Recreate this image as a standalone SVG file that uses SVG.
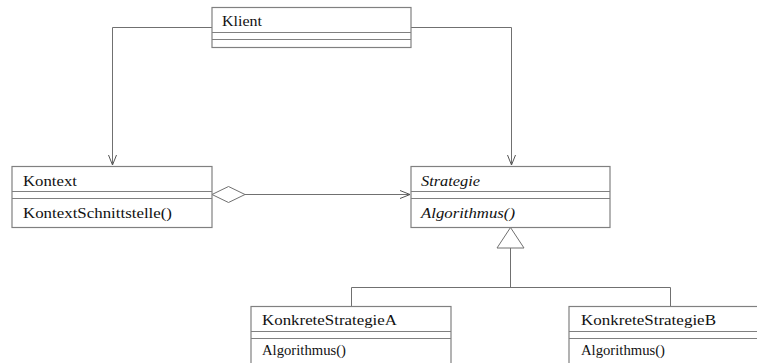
<svg xmlns="http://www.w3.org/2000/svg" width="757" height="363" viewBox="0 0 757 363">
<style>
.box{fill:#fff;stroke:#808080;stroke-width:1.2}
.div{stroke:#808080;stroke-width:1.2;fill:none}
.t{font-family:'Liberation Serif','DejaVu Serif',Times,serif;font-size:15px;fill:#111}
.i{font-style:italic}
.c{stroke:#707070;stroke-width:1;fill:none}
</style>
<defs>
<marker id="open" markerWidth="12" markerHeight="12" refX="10" refY="5" orient="auto" markerUnits="userSpaceOnUse">
<path d="M0,1 L10,5 L0,9" fill="none" stroke="#555" stroke-width="1"/>
</marker>
</defs>
<rect width="757" height="363" fill="#fff"/>
<g id="connectors">
<path class="c" d="M212,27.5 H112.5 V165" marker-end="url(#open)"/>
<path class="c" d="M411,27.5 H511.5 V165" marker-end="url(#open)"/>
<path class="c" d="M245,194.5 H410" marker-end="url(#open)"/>
<polygon points="212,194.5 228.5,186.5 245,194.5 228.5,202.5" fill="#fff" stroke="#707070" stroke-width="1"/>
<polygon points="510.5,227.5 497,248 524,248" fill="#fff" stroke="#707070" stroke-width="1"/>
<path class="c" d="M510.5,248 V287.5 M351.5,306 V287.5 H670.5 V306"/>
</g>
<g id="klient">
<rect class="box" x="212" y="7.5" width="199" height="40"/>
<path class="div" d="M212,32.5 H411 M212,39.5 H411"/>
<text class="t" font-family="Liberation Serif, serif" x="222" y="26" textLength="40" lengthAdjust="spacingAndGlyphs">Klient</text>
</g>
<g id="kontext">
<rect class="box" x="12" y="166.5" width="200" height="61"/>
<path class="div" d="M12,191.5 H212 M12,198.5 H212"/>
<text class="t" x="23" y="186" textLength="54" lengthAdjust="spacingAndGlyphs">Kontext</text>
<text class="t" x="23" y="218" textLength="149" lengthAdjust="spacingAndGlyphs">KontextSchnittstelle()</text>
</g>
<g id="strategie">
<rect class="box" x="411" y="166.5" width="199" height="61"/>
<path class="div" d="M411,191.5 H610 M411,198.5 H610"/>
<text class="t i" x="421" y="186" textLength="59" lengthAdjust="spacingAndGlyphs">Strategie</text>
<text class="t i" x="421" y="218" textLength="94" lengthAdjust="spacingAndGlyphs">Algorithmus()</text>
</g>
<g id="konkreteA">
<rect class="box" x="251" y="306.5" width="200" height="70"/>
<path class="div" d="M251,331.5 H451 M251,338.5 H451"/>
<text class="t" x="262" y="325" textLength="135" lengthAdjust="spacingAndGlyphs">KonkreteStrategieA</text>
<text class="t" x="262" y="355" textLength="84" lengthAdjust="spacingAndGlyphs">Algorithmus()</text>
</g>
<g id="konkreteB">
<rect class="box" x="569" y="306.5" width="200" height="70"/>
<path class="div" d="M569,331.5 H769 M569,338.5 H769"/>
<text class="t" x="581" y="325" textLength="135" lengthAdjust="spacingAndGlyphs">KonkreteStrategieB</text>
<text class="t" x="581" y="355" textLength="84" lengthAdjust="spacingAndGlyphs">Algorithmus()</text>
</g>
</svg>
